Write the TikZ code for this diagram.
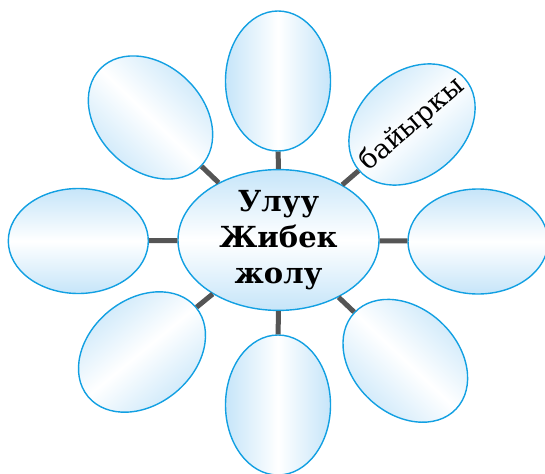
\documentclass[tikz,border=0pt]{standalone}
\usepackage{fontspec}
\setmainfont{DejaVu Serif}
\usetikzlibrary{shapes.geometric}
\definecolor{petalblue}{RGB}{198,229,249}
\definecolor{rimblue}{RGB}{18,160,226}
\definecolor{spokegray}{RGB}{85,85,85}

\begin{document}
\begin{tikzpicture}[x=1pt, y=1pt,
    petal/.style={ellipse, draw=rimblue, line width=1.4pt, minimum width=140pt, minimum height=105pt,
        inner sep=0pt, top color=petalblue, bottom color=petalblue, middle color=white,
        rotate=#1, shading angle=#1},
    petal/.default=0,
    hub/.style={petal, minimum width=201pt, minimum height=124pt},
    spoke/.style={spokegray, line width=5pt}]
    \useasboundingbox (0,0) rectangle (545,-473);

    % Central ellipse
    \node[hub, align=center, font=\bfseries\fontsize{29}{36}\selectfont] (silk) at (278.5,-240) {Улуу\\Жибек\\жолу};

    % Outer ellipses
    \node[petal=90] (top) at (278,-81) {};
    \node[petal=40.8, font=\fontsize{27}{30}\selectfont] (topright) at (412,-124.5) {\makebox[0pt]{байыркы}};
    \node[petal] (right) at (478,-241.5) {};
    \node[petal=-43.5] (botright) at (405.3,-360.8) {};
    \node[petal=90] (bottom) at (278,-405) {};
    \node[petal=39.5] (botleft) at (142,-352) {};
    \node[petal] (left) at (78.3,-241) {};
    \node[petal=-44] (topleft) at (150.5,-117.5) {};

    % Spokes
    \foreach \petalname in {top,topright,right,botright,bottom,botleft,left,topleft}
        \draw[spoke] (silk) -- (\petalname);
\end{tikzpicture}
\end{document}
